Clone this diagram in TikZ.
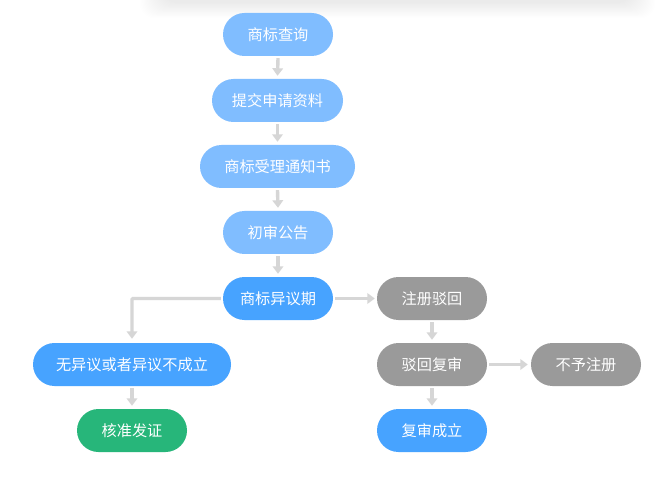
\documentclass[tikz,border=0pt]{standalone}
\usepackage{fontspec}
\newfontfamily\cjk{Noto Sans CJK SC}
\usetikzlibrary{arrows.meta}
\definecolor{lblue}{HTML}{80BDFF}
\definecolor{mblue}{HTML}{47A3FF}
\definecolor{ggray}{HTML}{9A9A9A}
\definecolor{ggreen}{HTML}{27B67A}
\definecolor{arr}{HTML}{D6D6D6}
\tikzset{
  pill/.style={draw=none, rounded corners=21.5pt, minimum height=43pt, inner sep=0pt,
    text=white, font=\cjk\fontsize{15.2pt}{17pt}\selectfont},
  lb/.style={pill, fill=lblue},
  mb/.style={pill, fill=mblue},
  gb/.style={pill, fill=ggray},
  grb/.style={pill, fill=ggreen},
  conn/.style={draw=arr, line width=3.4pt, -{Triangle[width=10.5pt,length=7.5pt]}},
}
\begin{document}
\begin{tikzpicture}[x=1pt,y=-1pt]
\useasboundingbox (0,0) rectangle (664,489);
\fill[white] (0,0) rectangle (664,489);
% top card shadow
\foreach \i in {0,...,19}{
  \fill[black, opacity=0.0042] (140+\i*1.2,-20) [rounded corners=14pt] rectangle (655-\i*1.2, 18-\i*0.8);
}
\node[lb, minimum width=110pt] (a) at (278,34.5) {商标查询};
\node[lb, minimum width=131pt] (b) at (277.5,100.5) {提交申请资料};
\node[lb, minimum width=155pt] (c) at (277.5,166.5) {商标受理通知书};
\node[lb, minimum width=110pt] (d) at (278,232.5) {初审公告};
\node[mb, minimum width=110pt] (e) at (278,298.5) {商标异议期};
\node[gb, minimum width=110pt] (f) at (432,298.5) {注册驳回};
\node[gb, minimum width=110pt] (g) at (432,364.5) {驳回复审};
\node[gb, minimum width=110pt] (h) at (586,364.5) {不予注册};
\node[mb, minimum width=110pt] (i) at (432,430.5) {复审成立};
\node[mb, minimum width=198pt] (j) at (132,364.5) {无异议或者异议不成立};
\node[grb, minimum width=110pt] (k) at (132,430.5) {核准发证};
\draw[conn] ([yshift=-2pt]a.south) -- ([yshift=3pt]b.north);
\draw[conn] ([yshift=-2pt]b.south) -- ([yshift=3pt]c.north);
\draw[conn] ([yshift=-2pt]c.south) -- ([yshift=3pt]d.north);
\draw[conn] ([yshift=-2pt]d.south) -- ([yshift=3pt]e.north);
\draw[conn] ([xshift=2pt]e.east) -- ([xshift=-2pt]f.west);
\draw[conn] ([yshift=-2pt]f.south) -- ([yshift=3pt]g.north);
\draw[conn] ([yshift=-2pt]g.south) -- ([yshift=3pt]i.north);
\draw[conn] ([xshift=2pt]g.east) -- ([xshift=-3pt]h.west);
\draw[conn, rounded corners=1pt] ([xshift=-2pt]e.west) -| ([yshift=4pt]j.north);
\draw[conn] ([yshift=-2pt]j.south) -- ([yshift=3pt]k.north);
\end{tikzpicture}
\end{document}
